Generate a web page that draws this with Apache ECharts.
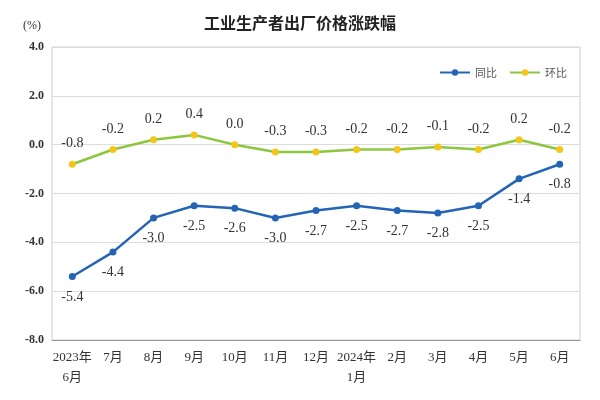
<!DOCTYPE html>
<html><head><meta charset="utf-8">
<script src="https://cdn.jsdelivr.net/npm/echarts@6/dist/echarts.min.js"></script>
<style>html,body{margin:0;background:#fff}#c{width:600px;height:400px}</style>
</head><body><div id="c"></div>
<script>
const months = ['2023年\n6月','7月','8月','9月','10月','11月','12月','2024年\n1月','2月','3月','4月','5月','6月'];
const yoy = [-5.4,-4.4,-3.0,-2.5,-2.6,-3.0,-2.7,-2.5,-2.7,-2.8,-2.5,-1.4,-0.8];
const mom = [-0.8,-0.2,0.2,0.4,0.0,-0.3,-0.3,-0.2,-0.2,-0.1,-0.2,0.2,-0.2];

const chart = echarts.init(document.getElementById('c'));
const serif = 'Liberation Serif, Noto Sans CJK SC';
chart.setOption({
  animation: false,
  title: {text: '工业生产者出厂价格涨跌幅', left: 'center', top: 10,
    textStyle: {fontSize: 16, fontWeight: 'bold', color: '#222', fontFamily: 'Noto Sans CJK SC'}},
  legend: {right: 28, top: 62, itemWidth: 30, itemHeight: 8, itemGap: 12,
    textStyle: {fontSize: 11, color: '#555', fontFamily: 'Noto Sans CJK SC'},
    data: ['同比', '环比']},
  grid: {left: 52, right: 20, top: 47, bottom: 60, show: true, borderColor: '#ccc', borderWidth: 1},
  xAxis: {type: 'category', data: months, boundaryGap: true,
    axisLine: {onZero: false, lineStyle: {color: '#999'}}, axisTick: {show: false},
    axisLabel: {color: '#333', fontSize: 13, fontFamily: serif, interval: 0, lineHeight: 20}},
  yAxis: {type: 'value', min: -8, max: 4, interval: 2, name: '(%)',
    nameTextStyle: {color: '#333', fontFamily: serif, fontSize: 12, padding: [0, 40, 0, 0]},
    axisLine: {show: false}, axisTick: {show: false},
    splitLine: {lineStyle: {color: '#ddd'}},
    axisLabel: {color: '#333', fontSize: 12, fontWeight: 'bold', fontFamily: serif, formatter: v => v.toFixed(1)}},
  series: [
    {name: '同比', type: 'line', data: yoy, color: '#2464b4', symbol: 'circle', symbolSize: 7,
     lineStyle: {width: 2.5},
     label: {show: true, position: 'bottom', distance: 10, color: '#333', fontSize: 14, fontFamily: serif,
       formatter: p => p.value.toFixed(1)}},
    {name: '环比', type: 'line', data: mom, color: '#8dc63f', symbol: 'circle', symbolSize: 7,
     itemStyle: {color: '#f5c518'}, lineStyle: {width: 2.5, color: '#8dc63f'},
     label: {show: true, position: 'top', distance: 10, color: '#333', fontSize: 14, fontFamily: serif,
       formatter: p => p.value.toFixed(1)}}
  ]
});
</script></body></html>
